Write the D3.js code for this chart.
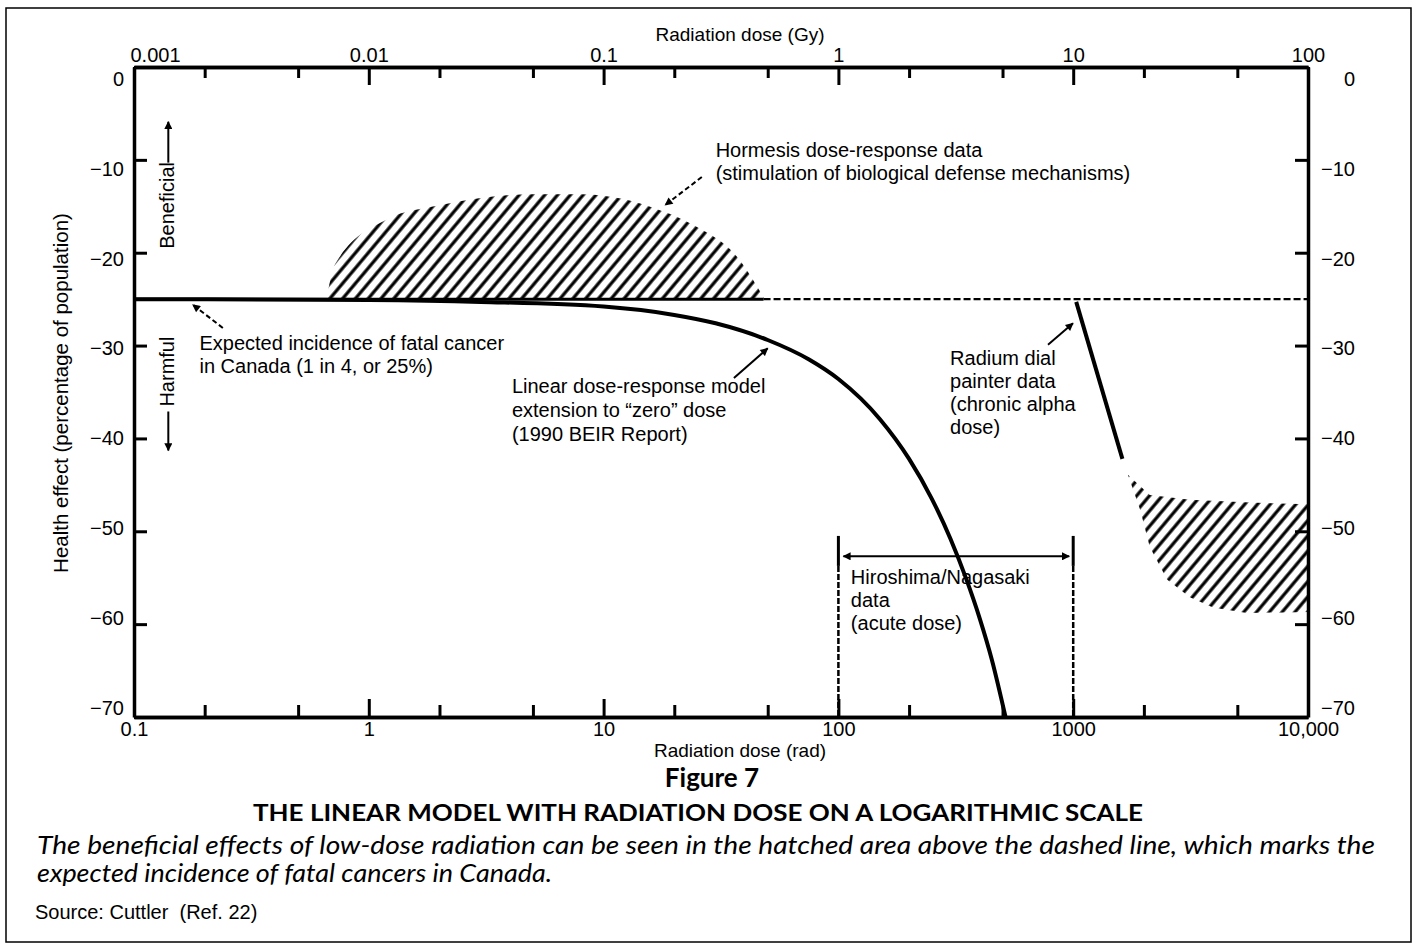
<!DOCTYPE html>
<html>

<head>
  <meta charset="UTF-8">
  <script src="https://d3js.org/d3.v7.js"></script>
  <style>
    body { margin: 0; background: #fff; }
    svg { display: block; font-family: 'Liberation Sans', Arial, sans-serif; }
  </style>
</head>

<body>
  <div id="chart"></div>

  <script>
    // data

    const radTicks = [0.1, 1, 10, 100, 1000, 10000];
    const radTickLabels = ['0.1', '1', '10', '100', '1000', '10,000'];
    const radMinor = [0.2, 0.5, 2, 5, 20, 50, 200, 500, 2000, 5000];

    const gyTicks = [0.001, 0.01, 0.1, 1, 10, 100];
    const gyTickLabels = ['0.001', '0.01', '0.1', '1', '10', '100'];
    const gyMinor = [0.002, 0.005, 0.02, 0.05, 0.2, 0.5, 2, 5, 20, 50];

    const effectTicks = [0, -10, -20, -30, -40, -50, -60, -70];

    // expected incidence of fatal cancer (25%)
    const cancerLevel = -25;

    // linear dose-response model (rad, % effect)
    const lntDose   = [0.1, 1, 3, 10, 20, 30, 50, 75, 100, 150, 200, 250, 300, 350, 400, 450, 515];
    const lntEffect = [-25, -25.1, -25.3, -25.8, -26.7, -27.6, -29.4, -31.5, -33.6, -37.9, -42.2, -46.5, -50.8, -55.1, -59.4, -63.8, -70];

    // hormesis hatched region, upper edge
    const hormDose = [0.66, 0.72, 1.2, 2, 3, 5, 8, 12, 16, 24, 38, 48];
    const hormTop  = [-25, -21.2, -16.4, -14.9, -14.1, -13.7, -13.7, -14.2, -15.1, -17.0, -20.8, -24.8];

    // radium dial painters
    const radiumDose   = [1030, 1620];
    const radiumEffect = [-25.3, -42.2];
    const dialUpperDose   = [1710, 2120, 3140, 5660, 10000];
    const dialUpperEffect = [-43.9, -46.1, -46.6, -46.9, -47.1];
    const dialLowerDose   = [1710, 1930, 2120, 2510, 3140, 3940, 5490, 10000];
    const dialLowerEffect = [-43.9, -47.7, -51.7, -55.2, -57.1, -58.2, -58.8, -58.7];

    // Hiroshima / Nagasaki range
    const hiroshimaRange = [100, 1000];

    const hormesisText = ['Hormesis dose-response data', '(stimulation of biological defense mechanisms)'];
    const expectedText = ['Expected incidence of fatal cancer', 'in Canada (1 in 4, or 25%)'];
    const linearText = ['Linear dose-response model', 'extension to \u201czero\u201d dose', '(1990 BEIR Report)'];
    const radiumText = ['Radium dial', 'painter data', '(chronic alpha', 'dose)'];
    const hiroshimaText = ['Hiroshima/Nagasaki', 'data', '(acute dose)'];

    // set up

    const W = 1413, H = 945;
    const margin = { top: 67, right: 105, bottom: 228, left: 134 };
    const width = W - margin.left - margin.right;
    const height = H - margin.top - margin.bottom;

    const svg = d3.select('#chart')
      .append('svg')
        .attr('width', W)
        .attr('height', H);

    svg.append('rect')
        .attr('x', 6).attr('y', 8)
        .attr('width', 1405).attr('height', 934)
        .attr('fill', 'none')
        .attr('stroke', '#000')
        .attr('stroke-width', 1.5);

    const g = svg.append('g')
        .attr('transform', `translate(${margin.left},${margin.top})`);

    const defs = svg.append('defs');

    defs.append('pattern')
        .attr('id', 'hatch')
        .attr('patternUnits', 'userSpaceOnUse')
        .attr('width', 9.8)
        .attr('height', 20)
        .attr('patternTransform', 'rotate(40)')
      .append('line')
        .attr('x1', 4.9).attr('y1', 0)
        .attr('x2', 4.9).attr('y2', 20)
        .attr('stroke', '#000')
        .attr('stroke-width', 3.2);

    defs.append('marker')
        .attr('id', 'arrow')
        .attr('viewBox', '0 0 10 10')
        .attr('refX', 9).attr('refY', 5)
        .attr('markerWidth', 10).attr('markerHeight', 8)
        .attr('markerUnits', 'userSpaceOnUse')
        .attr('orient', 'auto-start-reverse')
      .append('path')
        .attr('d', 'M0,0L10,5L0,10z')
        .attr('fill', '#000');

    // scales

    const x = d3.scaleLog()
        .domain([0.1, 10000])
        .range([0, width]);

    const xGy = d3.scaleLog()
        .domain([0.001, 100])
        .range([0, width]);

    const y = d3.scaleLinear()
        .domain([0, -70])
        .range([0, height]);

    // tick labels in the original are spaced a little tighter than the ticks
    const yLab = d3.scaleLinear()
        .domain([0, -70])
        .range([12, height - 9]);

    // axes

    function styleAxis(sel) {
      sel.attr('font-family', null).attr('font-size', 20);
      sel.selectAll('.tick line').attr('stroke-width', 3);
      sel.select('.domain').attr('stroke-width', 3.5);
    }

    // top (Gy)
    g.append('g')
        .call(d3.axisTop(xGy).tickValues(gyMinor).tickFormat('').tickSize(-11).tickSizeOuter(0))
        .call(styleAxis);
    g.append('g')
        .call(d3.axisTop(xGy).tickValues(gyTicks).tickFormat((d, i) => gyTickLabels[i]).tickSize(-18).tickSizeOuter(0).tickPadding(5))
        .call(styleAxis)
        .call(a => a.selectAll('.tick text').filter((d, i) => i === 0).attr('text-anchor', 'start').attr('x', -4));

    // bottom (rad)
    g.append('g')
        .attr('transform', `translate(0,${height})`)
        .call(d3.axisBottom(x).tickValues(radMinor).tickFormat('').tickSize(-12).tickSizeOuter(0))
        .call(styleAxis);
    g.append('g')
        .attr('transform', `translate(0,${height})`)
        .call(d3.axisBottom(x).tickValues(radTicks).tickFormat((d, i) => radTickLabels[i]).tickSize(-18).tickSizeOuter(0).tickPadding(5))
        .call(styleAxis);

    // left / right
    g.append('g')
        .call(d3.axisLeft(y).tickValues(effectTicks).tickFormat('').tickSize(-13).tickSizeOuter(0))
        .call(styleAxis);
    g.append('g')
        .call(d3.axisLeft(yLab).tickValues(effectTicks).tickSize(0).tickPadding(10))
        .call(styleAxis)
        .call(a => a.select('.domain').remove());

    g.append('g')
        .attr('transform', `translate(${width},0)`)
        .call(d3.axisRight(y).tickValues(effectTicks).tickFormat('').tickSize(-13).tickSizeOuter(0))
        .call(styleAxis);
    g.append('g')
        .attr('transform', `translate(${width},0)`)
        .call(d3.axisRight(yLab).tickValues(effectTicks).tickSize(0))
        .call(styleAxis)
        .call(a => a.select('.domain').remove())
        .call(a => a.selectAll('.tick text').attr('text-anchor', 'end').attr('x', 47));

    // hatched areas

    const hormArea = d3.area()
        .x(d => x(d[0]))
        .y0(y(cancerLevel))
        .y1(d => y(d[1]))
        .curve(d3.curveMonotoneX);

    g.append('path')
        .datum(d3.zip(hormDose, hormTop))
        .attr('d', hormArea)
        .attr('fill', 'url(#hatch)');

    const dialPts = d3.zip(dialUpperDose, dialUpperEffect)
        .concat(d3.zip(dialLowerDose, dialLowerEffect).reverse());

    g.append('path')
        .datum(dialPts)
        .attr('d', d3.line().x(d => x(d[0])).y(d => y(d[1])).curve(d3.curveLinearClosed))
        .attr('fill', 'url(#hatch)');

    // baseline: solid under the hormesis data, dashed beyond

    g.append('line')
        .attr('x1', x(0.1)).attr('x2', x(d3.max(hormDose)))
        .attr('y1', y(cancerLevel)).attr('y2', y(cancerLevel))
        .attr('stroke', '#000').attr('stroke-width', 3);

    g.append('line')
        .attr('x1', x(d3.max(hormDose))).attr('x2', x(10000))
        .attr('y1', y(cancerLevel)).attr('y2', y(cancerLevel))
        .attr('stroke', '#000').attr('stroke-width', 2.2)
        .attr('stroke-dasharray', '7,3');

    // linear model curve

    const line = d3.line()
        .x(d => x(d[0]))
        .y(d => y(d[1]))
        .curve(d3.curveMonotoneX);

    g.append('path')
        .datum(d3.zip(lntDose, lntEffect))
        .attr('d', line)
        .attr('fill', 'none')
        .attr('stroke', '#000')
        .attr('stroke-width', 4);

    // radium dial painter line
    g.append('path')
        .datum(d3.zip(radiumDose, radiumEffect))
        .attr('d', d3.line().x(d => x(d[0])).y(d => y(d[1])))
        .attr('fill', 'none')
        .attr('stroke', '#000')
        .attr('stroke-width', 4);

    // Hiroshima / Nagasaki bracket
    const bracketTop = y(-50.5);
    hiroshimaRange.forEach(d => {
      g.append('line')
          .attr('x1', x(d)).attr('x2', x(d))
          .attr('y1', bracketTop).attr('y2', bracketTop + 30)
          .attr('stroke', '#000').attr('stroke-width', 3);
      g.append('line')
          .attr('x1', x(d)).attr('x2', x(d))
          .attr('y1', bracketTop + 30).attr('y2', height)
          .attr('stroke', '#000').attr('stroke-width', 2.5)
          .attr('stroke-dasharray', '6,2');
    });
    g.append('line')
        .attr('x1', x(hiroshimaRange[0]) + 5).attr('x2', x(hiroshimaRange[1]) - 4)
        .attr('y1', y(-52.7)).attr('y2', y(-52.7))
        .attr('stroke', '#000').attr('stroke-width', 2)
        .attr('marker-start', 'url(#arrow)')
        .attr('marker-end', 'url(#arrow)');

    // annotations

    function addText(xp, yp, lines, lh) {
      const t = g.append('text')
          .attr('x', xp).attr('y', yp)
          .attr('font-size', 20);
      lines.forEach((s, i) => {
        t.append('tspan').attr('x', xp).attr('y', yp + i * lh).text(s);
      });
    }

    function leader(from, to, dashed) {
      g.append('line')
          .attr('x1', x(from[0])).attr('y1', y(from[1]))
          .attr('x2', x(to[0])).attr('y2', y(to[1]))
          .attr('stroke', '#000').attr('stroke-width', 2)
          .attr('stroke-dasharray', dashed ? '5,3' : null)
          .attr('marker-end', 'url(#arrow)');
    }

    addText(x(30), y(-9.7), hormesisText, 23);
    leader([26.2, -11.85], [18.3, -14.86], true);

    addText(x(0.19), y(-30.5), expectedText, 23);
    leader([0.239, -28.1], [0.178, -25.6], true);

    addText(x(4.07), y(-35.1), linearText, 24);
    leader([35.9, -33.5], [50, -30.3], false);

    addText(x(299), y(-32.1), radiumText, 23);
    leader([781, -29.9], [998, -27.6], false);

    addText(x(113), y(-55.7), hiroshimaText, 23);

    // beneficial / harmful side labels
    const sideX = x(0.14);
    g.append('text')
        .attr('transform', `translate(${sideX + 6},${y(-14.9)}) rotate(-90)`)
        .attr('text-anchor', 'middle')
        .attr('font-size', 20)
        .text('Beneficial');
    g.append('line')
        .attr('x1', sideX).attr('x2', sideX)
        .attr('y1', y(-10.3)).attr('y2', y(-5.9))
        .attr('stroke', '#000').attr('stroke-width', 2)
        .attr('marker-end', 'url(#arrow)');

    g.append('text')
        .attr('transform', `translate(${sideX + 6},${y(-32.8)}) rotate(-90)`)
        .attr('text-anchor', 'middle')
        .attr('font-size', 20)
        .text('Harmful');
    g.append('line')
        .attr('x1', sideX).attr('x2', sideX)
        .attr('y1', y(-37.1)).attr('y2', y(-41.3))
        .attr('stroke', '#000').attr('stroke-width', 2)
        .attr('marker-end', 'url(#arrow)');

    // axis titles

    svg.append('text')
        .attr('x', 740).attr('y', 41)
        .attr('text-anchor', 'middle')
        .attr('font-size', 19)
        .text('Radiation dose (Gy)');

    svg.append('text')
        .attr('x', 740).attr('y', 757)
        .attr('text-anchor', 'middle')
        .attr('font-size', 19)
        .text('Radiation dose (rad)');

    svg.append('text')
        .attr('transform', 'translate(68,393) rotate(-90)')
        .attr('text-anchor', 'middle')
        .attr('font-size', 20.5)
        .text('Health effect (percentage of population)');

    // caption

    svg.append('text')
        .attr('x', 712).attr('y', 787)
        .attr('text-anchor', 'middle')
        .attr('font-family', 'Lato')
        .attr('font-weight', 'bold')
        .attr('font-size', 26)
        .text('Figure 7');

    svg.append('text')
        .attr('x', 253).attr('y', 821)
        .attr('font-family', 'Lato')
        .attr('font-weight', 'bold')
        .attr('font-size', 23)
        .attr('textLength', 890)
        .attr('lengthAdjust', 'spacingAndGlyphs')
        .text('THE LINEAR MODEL WITH RADIATION DOSE ON A LOGARITHMIC SCALE');

    svg.append('text')
        .attr('x', 37).attr('y', 854)
        .attr('font-family', 'Lato')
        .attr('font-style', 'italic')
        .attr('font-size', 25)
        .attr('textLength', 1338)
        .attr('lengthAdjust', 'spacingAndGlyphs')
        .text('The beneficial effects of low-dose radiation can be seen in the hatched area above the dashed line, which marks the');

    svg.append('text')
        .attr('x', 37).attr('y', 882)
        .attr('font-family', 'Lato')
        .attr('font-style', 'italic')
        .attr('font-size', 25)
        .attr('textLength', 515)
        .attr('lengthAdjust', 'spacingAndGlyphs')
        .text('expected incidence of fatal cancers in Canada.');

    svg.append('text')
        .attr('x', 35).attr('y', 919)
        .attr('font-size', 20)
        .style('white-space', 'pre')
        .text('Source: Cuttler  (Ref. 22)');
  </script>
</body>

</html>
